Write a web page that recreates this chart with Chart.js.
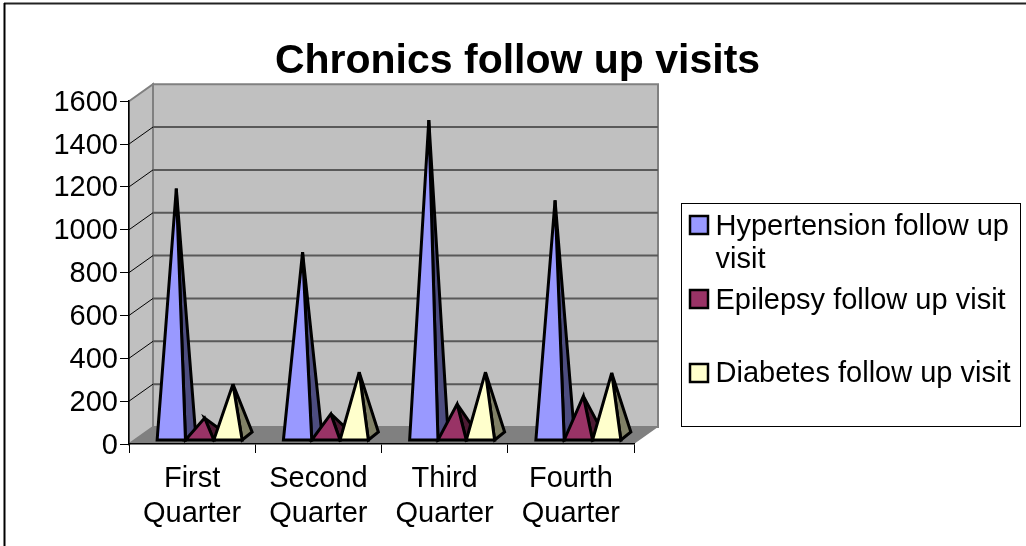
<!DOCTYPE html>
<html>
<head>
<meta charset="utf-8">
<title>Chronics follow up visits</title>
<script src="https://cdn.jsdelivr.net/npm/chart.js@4"></script>
<style>
  html, body { margin: 0; padding: 0; background: #fff; }
  canvas { display: block; }
</style>
</head>
<body>
<canvas id="myChart" width="1026" height="546"></canvas>
<script>
var quarters = [['First', 'Quarter'], ['Second', 'Quarter'], ['Third', 'Quarter'], ['Fourth', 'Quarter']];
var hypertension = [1155, 858, 1475, 1100];
var epilepsy = [84, 103, 149, 186];
var diabetes = [242, 298, 298, 294];
var seriesNames = ['Hypertension follow up visit', 'Epilepsy follow up visit', 'Diabetes follow up visit'];
var frontColors = ['#9999ff', '#993366', '#ffffcc'];
var sideColors = ['#4d4d80', '#4d1a33', '#808066'];
var legendLines = [['Hypertension follow up', 'visit'], ['Epilepsy follow up visit'], ['Diabetes follow up visit']];
var fontName = '"Liberation Sans", Arial, sans-serif';

// how far the back wall sits behind the front of the axes
var depthX = 24, depthY = 17;

function poly(ctx, pts, fill, stroke, width) {
  ctx.beginPath();
  pts.forEach(function (p, i) { i ? ctx.lineTo(p[0], p[1]) : ctx.moveTo(p[0], p[1]); });
  ctx.closePath();
  if (fill) { ctx.fillStyle = fill; ctx.fill(); }
  if (stroke) { ctx.strokeStyle = stroke; ctx.lineWidth = width; ctx.stroke(); }
}

function line(ctx, x1, y1, x2, y2, color, width) {
  ctx.beginPath();
  ctx.moveTo(x1, y1);
  ctx.lineTo(x2, y2);
  ctx.strokeStyle = color;
  ctx.lineWidth = width;
  ctx.stroke();
}

// bars are drawn as pyramids, still placed by the bar controller
class PyramidController extends Chart.BarController {
  draw() {
    // chart.js walks datasets last to first, but the later series overlap the earlier ones,
    // so everything is painted on the final pass
    if (this.index !== 0) return;
    var chart = this.chart, ctx = chart.ctx;
    var y0 = chart.scales.y.getPixelForValue(0);
    ctx.save();
    ctx.lineJoin = 'miter';
    ctx.miterLimit = 4;
    seriesNames.forEach(function (name, ds) {
      chart.getDatasetMeta(ds).data.forEach(function (bar) {
        var left = bar.x - bar.width / 2 + 7.5, right = bar.x + bar.width / 2 + 7.5;
        var base = y0 - 4;
        var apex = [bar.x + 7.5 + 5, bar.y - 8];
        poly(ctx, [[right, base], [right + 10, base - 8], apex], sideColors[ds], '#000', 3);
        poly(ctx, [[left, base], [right, base], apex], frontColors[ds], '#000', 3);
      });
    });
    ctx.restore();
  }
}
PyramidController.id = 'pyramid';
PyramidController.defaults = Chart.BarController.defaults;
Chart.register(PyramidController);

var wallsPlugin = {
  id: 'walls',
  beforeDraw: function (chart) {
    var ctx = chart.ctx, a = chart.chartArea, y = chart.scales.y;
    var L = a.left, R = a.right, T = a.top, B = a.bottom;
    ctx.save();
    // only the top and left of the frame show in the picture
    line(ctx, 4, 3.5, 1026, 3.5, '#222', 2);
    line(ctx, 4.5, 3, 4.5, 546, '#000', 2);
    // side wall, back wall, floor
    poly(ctx, [[L, T], [L + depthX, T - depthY], [L + depthX, B - depthY], [L, B]], '#c0c0c0', '#808080', 2);
    poly(ctx, [[L + depthX, T - depthY], [R + depthX, T - depthY], [R + depthX, B - depthY], [L + depthX, B - depthY]], '#c0c0c0', '#808080', 2);
    poly(ctx, [[L, B], [L + depthX, B - depthY], [R + depthX, B - depthY], [R, B]], '#808080', null, 0);
    y.ticks.forEach(function (t) {
      var py = y.getPixelForValue(t.value);
      if (t.value > 0 && t.value < 1600) {
        line(ctx, L, py, L + depthX, py - depthY, '#000', 1);
        line(ctx, L + depthX, py - depthY, R + depthX, py - depthY, '#595959', 2);
      }
    });
    ctx.restore();
  }
};

var legendPlugin = {
  id: 'sideLegend',
  start: function (chart) {
    Chart.layouts.addBox(chart, {
      position: 'right',
      weight: 5,
      fullSize: false,
      options: {},
      isHorizontal: function () { return false; },
      update: function (w, h) { this.width = 392; this.height = h; return { width: this.width, height: h }; },
      draw: function () {
        var ctx = chart.ctx;
        var boxX = 681.5, boxY = 203.5, boxW = 339, boxH = 223;
        var textY = [227, 301, 374];
        var markY = [225, 299, 373];
        ctx.save();
        ctx.fillStyle = '#fff';
        ctx.strokeStyle = '#000';
        ctx.lineWidth = 1;
        ctx.fillRect(boxX, boxY, boxW, boxH);
        ctx.strokeRect(boxX, boxY, boxW, boxH);
        ctx.font = '29px ' + fontName;
        ctx.textBaseline = 'middle';
        seriesNames.forEach(function (name, i) {
          ctx.fillStyle = frontColors[i];
          ctx.strokeStyle = '#000';
          ctx.lineWidth = 2.5;
          ctx.fillRect(690, markY[i] - 9, 18, 18);
          ctx.strokeRect(690, markY[i] - 9, 18, 18);
          ctx.fillStyle = '#000';
          legendLines[i].forEach(function (txt, n) {
            ctx.fillText(txt, 715.5, textY[i] + n * 33);
          });
        });
        ctx.restore();
      }
    });
  }
};

var ctx = document.getElementById('myChart').getContext('2d');
var myChart = new Chart(ctx, {
  type: 'pyramid',
  data: {
    labels: quarters,
    datasets: [
      { label: seriesNames[0], data: hypertension, backgroundColor: frontColors[0] },
      { label: seriesNames[1], data: epilepsy, backgroundColor: frontColors[1] },
      { label: seriesNames[2], data: diabetes, backgroundColor: frontColors[2] }
    ]
  },
  plugins: [wallsPlugin, legendPlugin],
  options: {
    responsive: false,
    animation: false,
    layout: { padding: { left: 9, right: 0, top: 0, bottom: 0 } },
    datasets: { pyramid: { barPercentage: 1, categoryPercentage: 0.673 } },
    scales: {
      x: {
        type: 'category',
        offset: true,
        afterFit: function (s) { s.height = 102; },
        border: { color: '#000', width: 1.5 },
        grid: { offset: true, drawOnChartArea: false, color: '#000', tickLength: 9 },
        ticks: { color: '#000', font: { family: fontName, size: 29 }, padding: 9, maxRotation: 0, autoSkip: false }
      },
      y: {
        type: 'linear',
        min: 0,
        max: 1600,
        afterFit: function (s) { s.width = 120; },
        border: { color: '#000', width: 1.5 },
        grid: { drawOnChartArea: false, color: '#000', tickLength: 9 },
        ticks: {
          stepSize: 200,
          color: '#000',
          font: { family: fontName, size: 29 },
          padding: 2,
          labelOffset: 1.5,
          callback: function (v) { return String(v); }
        }
      }
    },
    plugins: {
      legend: { display: false },
      tooltip: { enabled: false },
      title: {
        display: true,
        text: 'Chronics follow up visits',
        color: '#000',
        font: { family: fontName, size: 41, weight: 'bold' },
        padding: { top: 37, bottom: 15 }
      }
    }
  }
});
</script>
</body>
</html>
